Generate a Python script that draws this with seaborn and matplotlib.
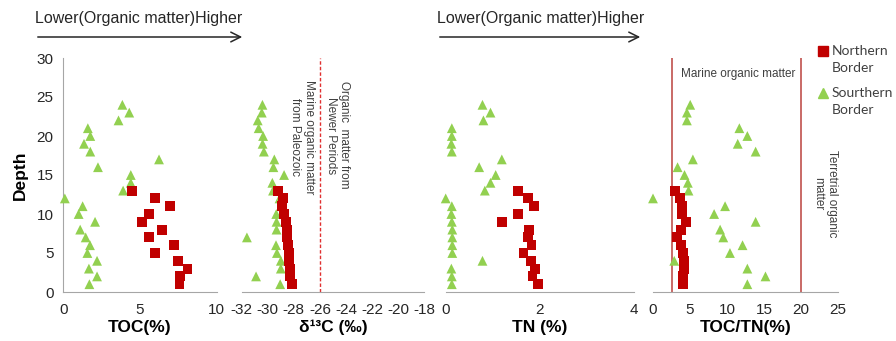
import numpy as np
import pandas as pd
import matplotlib
matplotlib.use("Agg")
import matplotlib.pyplot as plt
from matplotlib.ticker import MultipleLocator
from matplotlib.lines import Line2D
import seaborn as sns

# ---------------- data ----------------
depth_s = [24, 23, 22, 21, 20, 19, 18, 17, 16, 15, 14, 13, 12, 11, 10, 9, 8, 7, 6, 5, 4, 3, 2, 1]
depth_n = [13, 12, 11, 10, 9, 8, 7, 6, 5, 4, 3, 2, 1]

toc_s = [3.85, 4.3, 3.6, 1.6, 1.76, 1.35, 1.76, 6.24, 2.26, 4.4, 4.4, 3.9, 0.1, 1.26,
         1.0, 2.07, 1.1, 1.46, 1.74, 1.57, 2.2, 1.67, 2.2, 1.7]
toc_n = [4.48, 6.0, 6.96, 5.6, 5.15, 6.45, 5.6, 7.2, 6.0, 7.5, 8.1, 7.6, 7.57]

d13c_s = [-30.41, -30.46, -30.77, -30.7, -30.36, -30.4, -30.3, -29.5, -29.57, -28.75,
          -29.65, -29.6, -29.1, -28.93, -29.35, -29.33, -29.33, -31.6, -29.37, -29.3,
          -29.0, -29.0, -30.9, -29.05]
d13c_n = [-29.2, -28.85, -28.9, -28.75, -28.6, -28.55, -28.5, -28.45, -28.4, -28.35,
          -28.3, -28.3, -28.15]

tn_s = [0.78, 0.95, 0.8, 0.13, 0.13, 0.12, 0.13, 1.19, 0.71, 1.06, 0.95, 0.83, 0.0,
        0.13, 0.12, 0.13, 0.14, 0.14, 0.14, 0.14, 0.78, 0.12, 0.13, 0.13]
tn_n = [1.53, 1.74, 1.88, 1.54, 1.19, 1.77, 1.75, 1.82, 1.65, 1.81, 1.89, 1.84, 1.95]

tocn_s = [5.03, 4.58, 4.58, 11.67, 12.75, 11.45, 13.87, 5.39, 3.32, 4.26, 4.71, 4.8, 0.0,
          9.74, 8.26, 13.87, 9.07, 9.5, 12.1, 10.4, 2.87, 12.75, 15.2, 12.75]
tocn_n = [2.97, 3.65, 3.87, 3.87, 4.46, 3.74, 3.2, 3.74, 4.0, 4.2, 4.2, 4.1, 4.0]

groups = ["Northern\nBorder", "Sourthern\nBorder"]

# southern rows first so the northern squares are drawn on top
df = pd.DataFrame({
    "Depth": depth_s + depth_n,
    "TOC": toc_s + toc_n,
    "d13C": d13c_s + d13c_n,
    "TN": tn_s + tn_n,
    "TOCTN": tocn_s + tocn_n,
    "Border": [groups[1]] * len(depth_s) + [groups[0]] * len(depth_n),
})

# ---------------- style ----------------
sns.set_style("white")
plt.rcParams["font.family"] = ["Liberation Sans", "DejaVu Sans"]
plt.rcParams["axes.unicode_minus"] = False

RED = "#C00000"
GREEN = "#92D050"
SPINE = "#A6A6A6"
TXT = "#262626"
palette = {groups[0]: RED, groups[1]: GREEN}
markers = {groups[0]: "s", groups[1]: "^"}
sizes_kw = dict(s=50, linewidth=0)

fig = plt.figure(figsize=(8.96, 3.41), dpi=100)
W, H = 896.0, 341.0

def add_ax(x0, x1):
    return fig.add_axes([x0 / W, (H - 292) / H, (x1 - x0) / W, 234 / H])

ax1 = add_ax(63.3, 216.7)
ax2 = add_ax(241.7, 424.3)
ax3 = add_ax(445.7, 634.3)
ax4 = add_ax(653.0, 838.0)

cols = ["TOC", "d13C", "TN", "TOCTN"]
axes = [ax1, ax2, ax3, ax4]
for ax, col in zip(axes, cols):
    sns.scatterplot(data=df, x=col, y="Depth", hue="Border", style="Border",
                    hue_order=groups, style_order=groups, palette=palette,
                    markers=markers, ax=ax, legend=False, clip_on=False,
                    zorder=3, **sizes_kw)
    ax.set_ylim(0, 30)
    for s in ["top", "right"]:
        ax.spines[s].set_visible(False)
    ax.spines["bottom"].set_color(SPINE)
    ax.spines["left"].set_color(SPINE)
    ax.tick_params(axis="x", direction="in", length=4, width=0.8, color=SPINE,
                   pad=8, labelsize=11, labelcolor=TXT)
    ax.set_facecolor("none")

# y axis only on first panel
ax1.tick_params(axis="y", direction="out", length=4, width=0.8, color=SPINE,
                pad=3, labelsize=11, labelcolor=TXT)
ax1.set_yticks([0, 5, 10, 15, 20, 25, 30])
ax1.set_ylabel("Depth", fontsize=12.5, fontweight="bold", color="black", labelpad=6)
for ax in [ax2, ax3, ax4]:
    ax.spines["left"].set_visible(False)
    ax.set_yticks([])
    ax.set_ylabel("")

ax1.set_xlim(0, 10)
ax1.set_xticks([0, 5, 10])
ax2.set_xlim(-32, -18)
ax2.set_xticks(np.arange(-32, -17, 2))
ax2.xaxis.set_minor_locator(MultipleLocator(0.4))
ax2.tick_params(axis="x", which="minor", direction="in", length=4, width=0.7, color=SPINE)
ax3.set_xlim(0, 4)
ax3.set_xticks([0, 2, 4])
ax4.set_xlim(0, 25)
ax4.set_xticks([0, 5, 10, 15, 20, 25])

xlabels = ["TOC(%)", "δ¹³C (‰)", "TN (%)", "TOC/TN(%)"]
for ax, lab in zip(axes, xlabels):
    ax.set_xlabel(lab, fontsize=12.5, fontweight="bold", color="black", labelpad=2)

# reference lines
ax2.axvline(-26, color="#E03030", linestyle=(0, (2.5, 1.5)), linewidth=1.0, zorder=1)
ax4.axvline(2.5, color="#C0504D", linewidth=1.2, zorder=1)
ax4.axvline(20, color="#C0504D", linewidth=1.2, zorder=1)

ann = dict(fontsize=8.5, color="#404040", rotation=270, ha="center", va="top",
           multialignment="center")
ax2.text(-24.65, 27.0, "Organic  matter from\nNewer Periods", **ann)
ax2.text(-27.36, 27.2, "Marine organic matter\nfrom Paleozoic", **ann)
ax4.text(23.2, 18.2, "Terretrial organic\nmatter", **ann)
ax4.text(11.5, 27.9, "Marine organic matter", fontsize=8.5, color="#404040",
         ha="center", va="center")

# header arrows
for x0, x1 in [(35, 245), (437, 643)]:
    fig.text(x0 / W, 1 - 19 / H, "Lower(Organic matter)Higher", fontsize=11.5,
             color=TXT, ha="left", va="center")
    fig.add_artist(matplotlib.patches.FancyArrowPatch(
        (x0 / W, 1 - 37 / H), (x1 / W, 1 - 37 / H), transform=fig.transFigure,
        arrowstyle="->,head_length=7,head_width=3.5", mutation_scale=1,
        color="#262626", linewidth=1.1))

# legend (marker aligned with first text line, as in the reference)
leg_items = [(groups[0], "s", RED, 51), (groups[1], "^", GREEN, 93)]
for lab, mk, colr, ypx in leg_items:
    fig.add_artist(Line2D([823 / W], [1 - ypx / H], transform=fig.transFigure,
                          marker=mk, linestyle="", color=colr, markersize=6.5))
    fig.text(832 / W, 1 - (ypx - 6) / H, lab, fontsize=10, color="#404040",
             family=["Lato", "DejaVu Sans"], ha="left", va="top", linespacing=1.45)

fig.savefig("out.png", dpi=100)
